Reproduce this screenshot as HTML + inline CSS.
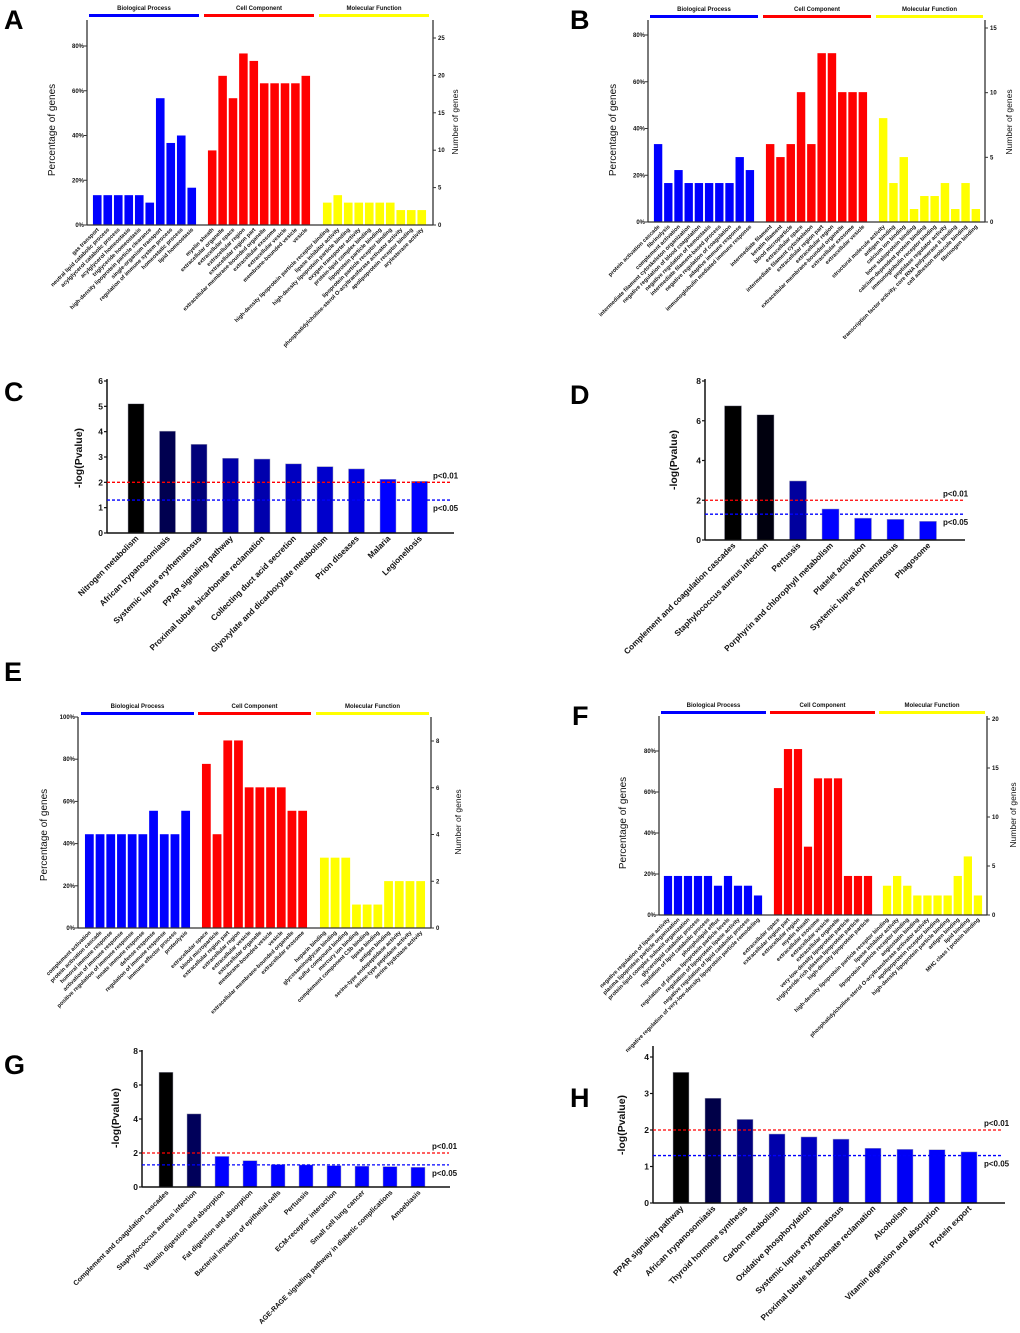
<!DOCTYPE html>
<html><head><meta charset="utf-8"><style>
html,body{margin:0;padding:0;background:#fff;}
svg{display:block;font-family:"Liberation Sans",Arial,sans-serif;}
</style></head><body>
<svg id="fig" width="1020" height="1333" viewBox="0 0 1020 1333" xmlns="http://www.w3.org/2000/svg"></svg>
<script>
// ===== DATA =====
const aBP=["gas transport","neutral lipid catabolic process","acylglycerol catabolic process","acylglycerol homeostasis","triglyceride homeostasis","high-density lipoprotein particle clearance","single-organism transport","regulation of immune system process","homeostatic process","lipid homeostasis"];
const aCC=["myelin sheath","extracellular organelle","extracellular space","extracellular region","extracellular region part","extracellular membrane-bounded organelle","extracellular exosome","extracellular vesicle","membrane-bounded vesicle","vesicle"];
const aMF=["high-density lipoprotein particle receptor binding","lipase inhibitor activity","high-density lipoprotein particle binding","oxygen transporter activity","protein-lipid complex binding","lipoprotein particle binding","lipoprotein particle receptor binding","phosphatidylcholine-sterol O-acyltransferase activator activity","apolipoprotein receptor binding","arylesterase activity"];
const aBPn=[4,4,4,4,4,3,17,11,12,5];
const aCCn=[10,20,17,23,22,19,19,19,19,20];
const aMFn=[3,4,3,3,3,3,3,2,2,2];
const aTotal=30;
const aRightTicks=[0,5,10,15,20,25];

const bBP=["protein activation cascade","fibrinolysis","complement activation","intermediate filament cytoskeleton organization","negative regulation of blood coagulation","negative regulation of hemostasis","intermediate filament-based process","negative regulation of coagulation","adaptive immune response","immunoglobulin mediated immune response"];
const bCC=["intermediate filament","keratin filament","blood microparticle","extracellular space","intermediate filament cytoskeleton","extracellular region part","extracellular region","extracellular membrane-bounded organelle","extracellular exosome","extracellular vesicle"];
const bMF=["structural molecule activity","antigen binding","calcium ion binding","bone sialoprotein binding","calcium-dependent protein binding","immunoglobulin receptor binding","peptidase regulator activity","transcription factor activity, core RNA polymerase II binding","cell adhesion molecule binding","fibrinogen binding"];
const bBPn=[6,3,4,3,3,3,3,3,5,4];
const bCCn=[6,5,6,10,6,13,13,10,10,10];
const bMFn=[8,3,5,1,2,2,3,1,3,1];
const bTotal=18;
const bRightTicks=[0,5,10,15];

const eBP=["complement activation","protein activation cascade","humoral immune response","activation of immune response","positive regulation of immune response","innate immune response","defense response","regulation of immune response","immune effector process","proteolysis"];
const eCC=["extracellular space","blood microparticle","extracellular region part","extracellular region","extracellular vesicle","extracellular organelle","membrane-bounded vesicle","vesicle","extracellular membrane-bounded organelle","extracellular exosome"];
const eMF=["heparin binding","glycosaminoglycan binding","sulfur compound binding","mercury ion binding","complement component C3b binding","lipase binding","antigen binding","serine-type endopeptidase activity","serine-type peptidase activity","serine hydrolase activity"];
const eBPn=[4,4,4,4,4,4,5,4,4,5];
const eCCn=[7,4,8,8,6,6,6,6,5,5];
const eMFn=[3,3,3,1,1,1,2,2,2,2];
const eTotal=9;
const eRightTicks=[0,2,4,6,8];

const fBP=["negative regulation of lipase activity","plasma lipoprotein particle organization","protein-lipid complex subunit organization","glycerolipid catabolic process","regulation of lipid catabolic process","phospholipid efflux","regulation of plasma lipoprotein particle levels","regulation of lipoprotein lipase activity","negative regulation of lipid catabolic process","negative regulation of very-low-density lipoprotein particle remodeling"];
const fCC=["extracellular space","extracellular region part","extracellular region","myelin sheath","extracellular exosome","extracellular vesicle","extracellular organelle","very-low-density lipoprotein particle","triglyceride-rich plasma lipoprotein particle","high-density lipoprotein particle"];
const fMF=["high-density lipoprotein particle receptor binding","lipase inhibitor activity","lipoprotein particle receptor binding","angiostatin binding","phosphatidylcholine-sterol O-acyltransferase activator activity","apolipoprotein receptor binding","high-density lipoprotein particle binding","antigen binding","lipid binding","MHC class I protein binding"];
const fBPn=[4,4,4,4,4,3,4,3,3,2];
const fCCn=[13,17,17,7,14,14,14,4,4,4];
const fMFn=[3,4,3,2,2,2,2,4,6,2];
const fTotal=21;
const fRightTicks=[0,5,10,15,20];

const cCats=["Nitrogen metabolism","African trypanosomiasis","Systemic lupus erythematosus","PPAR signaling pathway","Proximal tubule bicarbonate reclamation","Collecting duct acid secretion","Glyoxylate and dicarboxylate metabolism","Prion diseases","Malaria","Legionellosis"];
const cVals=[5.1,4.02,3.5,2.95,2.92,2.73,2.62,2.53,2.12,2.04];
const cTicks=[0,1,2,3,4,5,6];

const dCats=["Complement and coagulation cascades","Staphylococcus aureus infection","Pertussis","Porphyrin and chlorophyll metabolism","Platelet activation","Systemic lupus erythematosus","Phagosome"];
const dVals=[6.75,6.3,2.97,1.56,1.1,1.04,0.94];
const dTicks=[0,2,4,6,8];

const gCats=["Complement and coagulation cascades","Staphylococcus aureus infection","Vitamin digestion and absorption","Fat digestion and absorption","Bacterial invasion of epithelial cells","Pertussis","ECM-receptor interaction","Small cell lung cancer","AGE-RAGE signaling pathway in diabetic complications","Amoebiasis"];
const gVals=[6.75,4.3,1.8,1.55,1.32,1.3,1.26,1.23,1.2,1.16];
const gTicks=[0,2,4,6,8];

const hCats=["PPAR signaling pathway","African trypanosomiasis","Thyroid hormone synthesis","Carbon metabolism","Oxidative phosphorylation","Systemic lupus erythematosus","Proximal tubule bicarbonate reclamation","Alcoholism","Vitamin digestion and absorption","Protein export"];
const hVals=[3.58,2.87,2.29,1.89,1.81,1.75,1.5,1.47,1.46,1.4];
const hTicks=[0,1,2,3,4];

const pThresh=[2,1.3];

// ===== DRAWING =====
const NS="http://www.w3.org/2000/svg";
const svg=document.getElementById('fig');
function mk(tag,attrs,parent){const e=document.createElementNS(NS,tag);for(const k in attrs)e.setAttribute(k,attrs[k]);(parent||svg).appendChild(e);return e;}
function txt(s,attrs,parent){const e=mk('text',attrs,parent);e.textContent=s;return e;}

function letter(ch,x,y){
  const t=txt(ch,{x:x,y:y,'font-size':27,'font-weight':'bold',fill:'#000'});
  
  
}

function goPanel(p){
  const g=mk('g',{});
  
  
  const groups=[["Biological Process",'#0000ff',p.bp,p.bpn,p.gBP],["Cell Component",'#ff0000',p.cc,p.ccn,p.gCC],["Molecular Function",'#ffff00',p.mf,p.mfn,p.gMF]];
  const yPct=v=>p.y0-v*p.pxPct;
  const yCnt=v=>p.y0-v*p.pxCnt;
  groups.forEach((gr,gi)=>{
    const h=p.heads[gi];
    const hl=mk('rect',{x:h[0],y:p.headY,width:h[1]-h[0],height:3,fill:gr[1]},g);
    
    
    const ht=txt(gr[0],{x:(h[0]+h[1])/2,y:p.headY-4,'font-size':6,'font-weight':'bold','text-anchor':'middle',fill:'#111'},g);
    
    
    const s=gr[4][0],e=gr[4][1],n=gr[3].length,step=(e-s)/n,bw=step*0.82;
    gr[3].forEach((c,i)=>{
      const pct=c/p.total*100;
      const x=s+i*step+(step-bw)/2;
      const r=mk('rect',{x:x,y:yPct(pct),width:bw,height:p.y0-yPct(pct),fill:gr[1]},g);
      
      
      const cx=x+bw/2, ly=p.y0+5;
      const t=txt(gr[2][i],{x:cx+2,y:ly,'font-size':5.6,'font-weight':'bold','text-anchor':'end',fill:'#111',transform:`rotate(-45 ${cx+2} ${ly})`},g);
      
      
    });
  });
  // axes
  const la=mk('line',{x1:p.xl,y1:p.top,x2:p.xl,y2:p.y0+0.5,stroke:'#333','stroke-width':1.3},g);
  
  
  const ra=mk('line',{x1:p.xr,y1:p.top,x2:p.xr,y2:p.y0+0.5,stroke:'#333','stroke-width':1.3},g);
  
  
  const ba=mk('line',{x1:p.xl,y1:p.y0,x2:p.xr,y2:p.y0,stroke:'#333','stroke-width':1.3},g);
  
  
  p.pctTicks.forEach(v=>{
    const y=yPct(v);
    mk('line',{x1:p.xl-3,y1:y,x2:p.xl,y2:y,stroke:'#333'},g);
    const t=txt(v+'%',{x:p.xl-3,y:y+2,'font-size':6,'font-weight':'bold','text-anchor':'end',fill:'#111'},g);
    
    
  });
  p.rticks.forEach(v=>{
    const y=yCnt(v);
    mk('line',{x1:p.xr,y1:y,x2:p.xr+3,y2:y,stroke:'#333'},g);
    const t=txt(String(v),{x:p.xr+5,y:y+2,'font-size':6,'font-weight':'bold',fill:'#111'},g);
    
    
  });
  const yl=txt('Percentage of genes',{x:p.ylx,y:p.yly,'font-size':10,'text-anchor':'middle',fill:'#111',transform:`rotate(-90 ${p.ylx} ${p.yly})`},g);
  
  
  const yr=txt('Number of genes',{x:p.yrx,y:p.yry,'font-size':8.5,'text-anchor':'middle',fill:'#111',transform:`rotate(-90 ${p.yrx} ${p.yry})`},g);
  
  
}

function keggPanel(p){
  const g=mk('g',{});
  
  
  const yv=v=>p.y0-v*p.unit;
  p.vals.forEach((v,i)=>{
    const cx=p.c0+i*p.sp;
    const r=mk('rect',{x:cx-p.bw/2,y:yv(v),width:p.bw,height:p.y0-yv(v),fill:p.colors[i],stroke:'#aab','stroke-width':0.5},g);
    
    
    const ly=p.y0+6;
    const t=txt(p.cats[i],{x:cx+3,y:ly,'font-size':p.fs,'font-weight':'bold','text-anchor':'end',fill:'#111',transform:`rotate(-45 ${cx+3} ${ly})`},g);
    
    
  });
  const ya=mk('line',{x1:p.xl,y1:p.top,x2:p.xl,y2:p.y0+0.5,stroke:'#111','stroke-width':1.5},g);
  
  
  const xa=mk('line',{x1:p.xl,y1:p.y0,x2:p.xe,y2:p.y0,stroke:'#111','stroke-width':1.5},g);
  
  
  p.ticks.forEach(v=>{
    const y=yv(v);
    mk('line',{x1:p.xl-3,y1:y,x2:p.xl,y2:y,stroke:'#111','stroke-width':1.2},g);
    const t=txt(String(v),{x:p.xl-4,y:y+3,'font-size':8.5,'font-weight':'bold','text-anchor':'end',fill:'#111'},g);
    
    
  });
  const cols=['#ff0000','#0000ff'], names=['p<0.01','p<0.05'];
  pThresh.forEach((v,i)=>{
    const y=yv(v);
    const l=mk('line',{x1:p.xl,y1:y,x2:p.le,y2:y,stroke:cols[i],'stroke-width':1.3,'stroke-dasharray':'3,2'},g);
    
    
    const t=txt(names[i],{x:p.px,y:i?y+11:y-4,'font-size':8,'font-weight':'bold',fill:'#111'},g);
    
    
  });
  const yl=txt('-log(Pvalue)',{x:p.ylx,y:p.yly,'font-size':10.5,'font-weight':'bold','text-anchor':'middle',fill:'#111',transform:`rotate(-90 ${p.ylx} ${p.yly})`},g);
  
  
}

const pctTicks=[0,20,40,60,80];
letter('A',4,29);
goPanel({id:'a',bp:aBP,cc:aCC,mf:aMF,bpn:aBPn,ccn:aCCn,mfn:aMFn,total:aTotal,rticks:aRightTicks,pctTicks:pctTicks,
  heads:[[89,199],[204,314],[319,429]],headY:14,gBP:[92,197],gCC:[207,311],gMF:[322,427],
  xl:87,xr:433,top:20,y0:225,pxPct:179/80,pxCnt:187/25,ylx:55,yly:130,yrx:458,yry:122});
letter('B',570,29);
goPanel({id:'b',bp:bBP,cc:bCC,mf:bMF,bpn:bBPn,ccn:bCCn,mfn:bMFn,total:bTotal,rticks:bRightTicks,pctTicks:pctTicks,
  heads:[[650,758],[763,871],[876,983]],headY:15,gBP:[653,755],gCC:[765,868],gMF:[878,981],
  xl:648,xr:985,top:20,y0:222,pxPct:187/80,pxCnt:194/15,ylx:616,yly:130,yrx:1012,yry:122});
letter('E',4,681);
goPanel({id:'e',bp:eBP,cc:eCC,mf:eMF,bpn:eBPn,ccn:eCCn,mfn:eMFn,total:eTotal,rticks:eRightTicks,pctTicks:[0,20,40,60,80,100],
  heads:[[81,194],[198,311],[316,429]],headY:712,gBP:[84,191],gCC:[201,308],gMF:[319,426],
  xl:78,xr:431,top:717,y0:928,pxPct:211/100,pxCnt:187/8,ylx:47,yly:835,yrx:461,yry:822});
letter('F',572,725);
goPanel({id:'f',bp:fBP,cc:fCC,mf:fMF,bpn:fBPn,ccn:fCCn,mfn:fMFn,total:fTotal,rticks:fRightTicks,pctTicks:pctTicks,
  heads:[[661,766],[770,875],[879,985]],headY:711,gBP:[663,763],gCC:[773,873],gMF:[882,983],
  xl:659,xr:987,top:716,y0:915,pxPct:164/80,pxCnt:196/20,ylx:626,yly:823,yrx:1016,yry:815});

letter('C',4,401);
keggPanel({id:'c',cats:cCats,vals:cVals,ticks:cTicks,colors:['#000000','#000050','#00007a','#0000a8','#0000ad','#0000c0','#0000cc','#0000dd','#0000ff','#0000ff'],
  xl:107,xe:454,le:452,top:379,y0:533,unit:152/6,c0:136,sp:31.5,bw:16,fs:8.2,px:433,ylx:82,yly:458});
letter('D',570,404);
keggPanel({id:'d',cats:dCats,vals:dVals,ticks:dTicks,colors:['#000000','#00000e','#00009e','#0000ff','#0000ff','#0000ff','#0000ff'],
  xl:705,xe:965,le:963,top:379,y0:540,unit:159/8,c0:733,sp:32.5,bw:17,fs:8.2,px:943,ylx:677,yly:460});
letter('G',4,1074);
keggPanel({id:'g',cats:gCats,vals:gVals,ticks:gTicks,colors:['#000000','#00005a','#0000ff','#0000ff','#0000ff','#0000ff','#0000ff','#0000ff','#0000ff','#0000ff'],
  xl:142,xe:450,le:449,top:1050,y0:1187,unit:136/8,c0:166,sp:28,bw:14,fs:7,px:432,ylx:119,yly:1118});
letter('H',570,1107);
keggPanel({id:'h',cats:hCats,vals:hVals,ticks:hTicks,colors:['#000000','#000048','#00007e','#0000aa','#0000c0','#0000cc','#0000f0','#0000f5','#0000fa','#0000ff'],
  xl:653,xe:1005,le:1003,top:1046,y0:1203,unit:146/4,c0:681,sp:32,bw:16,fs:8.2,px:984,ylx:625,yly:1125});
</script>
</body></html>
